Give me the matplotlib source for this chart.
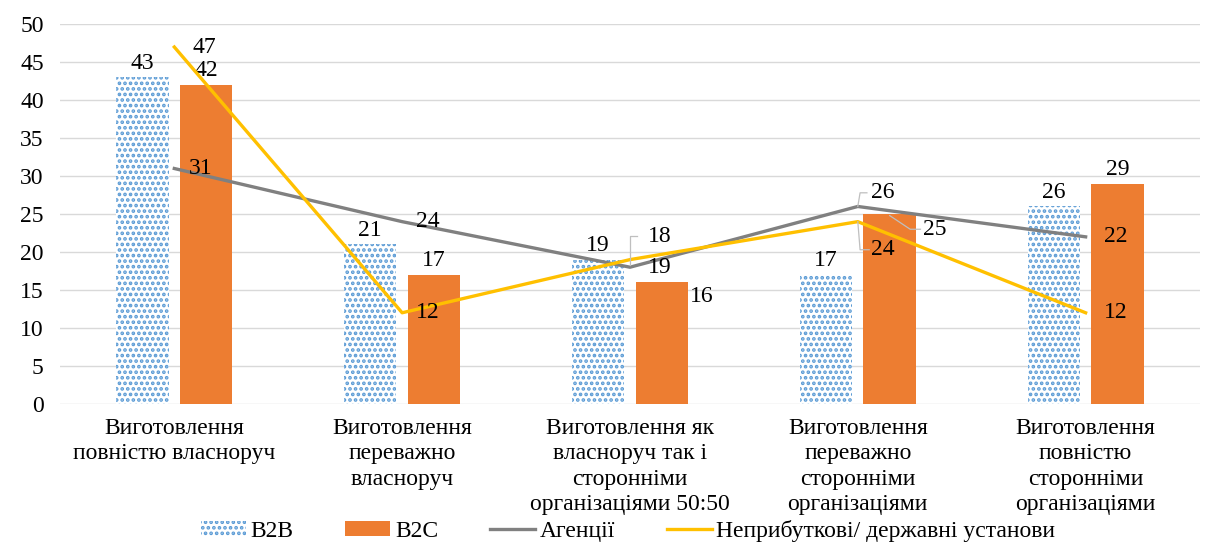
import matplotlib

matplotlib.use("Agg")

import matplotlib.pyplot as plt
import numpy as np
from matplotlib.lines import Line2D
from matplotlib.patches import Patch

categories = [
    "Виготовлення\nповністю власноруч",
    "Виготовлення\nпереважно\nвласноруч",
    "Виготовлення як\nвласноруч так і\nсторонніми\nорганізаціями 50:50",
    "Виготовлення\nпереважно\nсторонніми\nорганізаціями",
    "Виготовлення\nповністю\nсторонніми\nорганізаціями",
]
b2b = [43, 21, 19, 17, 26]
b2c = [42, 17, 16, 25, 29]
agencies = [31, 24, 18, 26, 22]
nonprofit = [47, 12, 19, 24, 12]

series_names = ["B2B", "B2C", "Агенції", "Неприбуткові/ державні установи"]

plt.rcParams["font.family"] = ["Liberation Serif", "DejaVu Serif"]
plt.rcParams["hatch.linewidth"] = 1.8

BLUE = "#5B9BD5"
ORANGE = "#ED7D31"
GRAY = "#808080"
YELLOW = "#FFC000"
LEADER = "#BFBFBF"

fig = plt.figure(figsize=(12.08, 5.51), dpi=100)
ax = fig.add_axes([0.05, 0.267, 0.943, 0.689])

x = np.arange(len(categories))
w = 0.23
off = 0.14

ax.bar(x - off, b2b, w, facecolor="white", edgecolor=BLUE, hatch="...", linewidth=0, zorder=2)
ax.bar(x + off, b2c, w, color=ORANGE, linewidth=0, zorder=2)
ax.plot(x, agencies, color=GRAY, lw=2.4, zorder=3)
ax.plot(x, nonprofit, color=YELLOW, lw=2.4, zorder=4)

fs = 17

# bar labels: above the bar, except the two that sit right of the bar
for i in range(len(x)):
    ax.text(x[i] - off, b2b[i] + 0.5, str(b2b[i]), ha="center", va="bottom", fontsize=fs)
    if i == 2:
        ax.text(x[i] + off + w / 2 + 0.01, b2c[i] - 1.9, str(b2c[i]), ha="left", va="center", fontsize=fs)
    elif i == 3:
        ax.text(x[i] + off + w / 2 + 0.03, b2c[i] - 2.0, str(b2c[i]), ha="left", va="center", fontsize=fs)
        ax.plot([x[i] + off, x[i] + off + 0.09, x[i] + off + w / 2 + 0.02],
                [b2c[i] - 0.2, b2c[i] - 2.0, b2c[i] - 2.0], color=LEADER, lw=0.9, zorder=5)
    else:
        ax.text(x[i] + off, b2c[i] + 0.5, str(b2c[i]), ha="center", va="bottom", fontsize=fs)

# line labels (dx, dy in data units from the point)
ag_pos = [(0.065, 0.0), (0.06, 0.0), (0.08, 4.0), (0.06, 1.8), (0.08, 0.0)]
np_pos = [(0.08, 0.0), (0.06, 0.0), (0.08, -1.1), (0.06, -3.7), (0.08, 0.0)]
for i in range(len(x)):
    dx, dy = ag_pos[i]
    ax.text(x[i] + dx, agencies[i] + dy, str(agencies[i]), ha="left", va="center", fontsize=fs, zorder=5)
    dx, dy = np_pos[i]
    ax.text(x[i] + dx, nonprofit[i] + dy, str(nonprofit[i]), ha="left", va="center", fontsize=fs, zorder=5)

# leader lines
ax.plot([x[2], x[2], x[2] + 0.03], [agencies[2] + 0.3, agencies[2] + 4.1, agencies[2] + 4.1],
        color=LEADER, lw=0.9, zorder=5)
ax.plot([x[3], x[3] + 0.01, x[3] + 0.04], [agencies[3], agencies[3] + 1.8, agencies[3] + 1.8],
        color=LEADER, lw=0.9, zorder=5)
ax.plot([x[3], x[3] + 0.01, x[3] + 0.05], [nonprofit[3], nonprofit[3] - 3.7, nonprofit[3] - 3.7],
        color=LEADER, lw=0.9, zorder=5)

ax.set_xlim(-0.5, 4.5)
ax.set_ylim(0, 50)
ax.set_yticks(range(0, 51, 5))
ax.set_xticks(x)
ax.set_xticklabels(categories, fontsize=fs, linespacing=1.28)
ax.tick_params(axis="y", labelsize=fs, length=0, pad=12)
ax.tick_params(axis="x", length=0, pad=10)
ax.grid(axis="y", color="#D9D9D9", lw=1, zorder=0)
ax.set_axisbelow(True)
for s in ax.spines.values():
    s.set_visible(False)

handles = [
    Patch(facecolor="white", edgecolor=BLUE, hatch="...", linewidth=0),
    Patch(facecolor=ORANGE, linewidth=0),
    Line2D([], [], color=GRAY, lw=2.4),
    Line2D([], [], color=YELLOW, lw=2.4),
]
fig.legend(handles, series_names, loc="lower center", bbox_to_anchor=(0.52, -0.022), ncol=4,
           frameon=False, fontsize=17, handlelength=1.9, handleheight=0.6, handletextpad=0.2,
           columnspacing=2.2)

fig.savefig("out.png", dpi=100)
